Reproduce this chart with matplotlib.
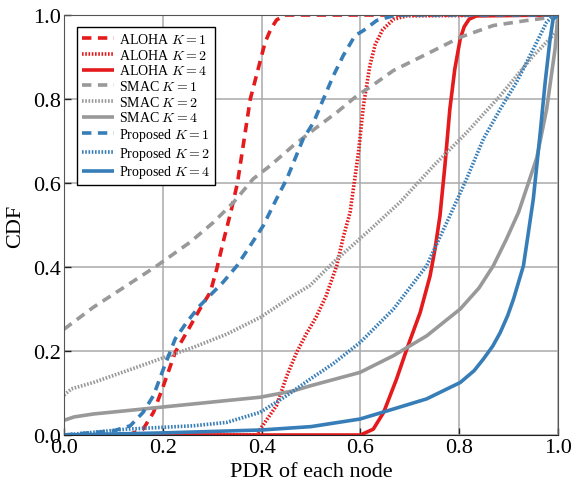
import numpy as np
import matplotlib
matplotlib.use("Agg")
import matplotlib.pyplot as plt

# CDF del PDR por nodo
aloha1_x = [0.0, 0.13, 0.16, 0.181, 0.201, 0.225, 0.248, 0.275, 0.296, 0.309, 0.322, 0.339, 0.351, 0.377, 0.407, 0.418, 0.43, 0.447, 1.0]
aloha1_y = [0.0, 0.0, 0.014, 0.054, 0.117, 0.197, 0.244, 0.30, 0.34, 0.395, 0.459, 0.538, 0.60, 0.80, 0.935, 0.965, 0.988, 1.0, 1.0]

aloha2_x = [0.0, 0.39, 0.397, 0.43, 0.451, 0.471, 0.49, 0.51, 0.53, 0.552, 0.565, 0.579, 0.596, 0.606, 0.619, 0.63, 0.645, 0.667, 0.694, 1.0]
aloha2_y = [0.0, 0.0, 0.014, 0.07, 0.141, 0.197, 0.24, 0.28, 0.33, 0.403, 0.47, 0.53, 0.673, 0.784, 0.879, 0.93, 0.965, 0.99, 0.998, 1.0]

aloha4_x = [0.0, 0.60, 0.626, 0.647, 0.673, 0.694, 0.721, 0.741, 0.751, 0.761, 0.771, 0.781, 0.791, 0.802, 0.81, 0.82, 0.835, 1.0]
aloha4_y = [0.0, 0.0, 0.014, 0.054, 0.133, 0.205, 0.292, 0.379, 0.443, 0.522, 0.641, 0.776, 0.871, 0.943, 0.972, 0.99, 0.998, 1.0]

smac1_x = [0.0, 0.059, 0.127, 0.188, 0.255, 0.302, 0.343, 0.383, 0.417, 0.464, 0.512, 0.552, 0.593, 0.619, 0.667, 0.734, 0.802, 0.869, 0.937, 0.99, 1.0]
smac1_y = [0.252, 0.304, 0.356, 0.403, 0.459, 0.506, 0.554, 0.61, 0.641, 0.689, 0.733, 0.768, 0.808, 0.828, 0.868, 0.907, 0.947, 0.975, 0.987, 0.995, 1.0]

smac2_x = [0.0, 0.015, 0.059, 0.127, 0.194, 0.262, 0.329, 0.397, 0.464, 0.498, 0.545, 0.613, 0.68, 0.748, 0.815, 0.883, 0.95, 0.997, 1.0]
smac2_y = [0.095, 0.11, 0.125, 0.153, 0.181, 0.209, 0.24, 0.28, 0.332, 0.356, 0.411, 0.482, 0.554, 0.641, 0.72, 0.808, 0.903, 0.96, 1.0]

smac4_x = [0.0, 0.02, 0.059, 0.127, 0.194, 0.262, 0.329, 0.397, 0.464, 0.498, 0.599, 0.667, 0.734, 0.802, 0.84, 0.869, 0.895, 0.92, 0.94, 0.957, 0.977, 0.994, 1.0]
smac4_y = [0.035, 0.043, 0.05, 0.058, 0.066, 0.074, 0.082, 0.09, 0.105, 0.117, 0.149, 0.189, 0.236, 0.30, 0.35, 0.403, 0.465, 0.53, 0.6, 0.66, 0.776, 0.919, 1.0]

prop1_x = [0.0, 0.05, 0.10, 0.134, 0.16, 0.181, 0.201, 0.225, 0.248, 0.275, 0.302, 0.322, 0.35, 0.377, 0.403, 0.43, 0.451, 0.484, 0.505, 0.525, 0.545, 0.565, 0.589, 0.606, 0.633, 0.666, 0.69, 1.0]
prop1_y = [0.0, 0.005, 0.01, 0.022, 0.054, 0.094, 0.157, 0.229, 0.268, 0.308, 0.34, 0.364, 0.403, 0.451, 0.498, 0.562, 0.61, 0.705, 0.744, 0.80, 0.855, 0.903, 0.951, 0.963, 0.987, 0.998, 1.0, 1.0]

prop2_x = [0.0, 0.127, 0.262, 0.329, 0.397, 0.451, 0.498, 0.545, 0.60, 0.667, 0.734, 0.781, 0.815, 0.849, 0.883, 0.916, 0.95, 0.977, 0.99, 1.0]
prop2_y = [0.0, 0.014, 0.022, 0.03, 0.054, 0.094, 0.133, 0.17, 0.221, 0.30, 0.403, 0.522, 0.61, 0.705, 0.776, 0.84, 0.919, 0.983, 0.998, 1.0]

prop4_x = [0.0, 0.2, 0.4, 0.5, 0.599, 0.667, 0.734, 0.802, 0.83, 0.849, 0.868, 0.883, 0.898, 0.91, 0.93, 0.94, 0.95, 0.964, 0.974, 0.984, 0.99, 1.0]
prop4_y = [0.0, 0.005, 0.012, 0.02, 0.038, 0.062, 0.086, 0.125, 0.153, 0.181, 0.212, 0.244, 0.284, 0.324, 0.403, 0.482, 0.562, 0.72, 0.84, 0.943, 0.99, 1.0]

ticks = [0.0, 0.2, 0.4, 0.6, 0.8, 1.0]

plt.rcParams['font.family'] = ['Liberation Serif', 'DejaVu Serif']
plt.rcParams['mathtext.fontset'] = 'cm'

rojo = '#e41a1c'
gris = '#999999'
azul = '#377eb8'
rayas = (2.6, 1.8)
puntos = (0.45, 0.45)

fig = plt.figure(figsize=(5.88, 4.85), dpi=100)
ax = fig.add_axes([0.109, 0.101, 0.840, 0.866])

series = [
    (aloha1_x, aloha1_y, rojo, rayas, r'ALOHA $K = 1$'),
    (aloha2_x, aloha2_y, rojo, puntos, r'ALOHA $K = 2$'),
    (aloha4_x, aloha4_y, rojo, None, r'ALOHA $K = 4$'),
    (smac1_x, smac1_y, gris, rayas, r'SMAC $K = 1$'),
    (smac2_x, smac2_y, gris, puntos, r'SMAC $K = 2$'),
    (smac4_x, smac4_y, gris, None, r'SMAC $K = 4$'),
    (prop1_x, prop1_y, azul, rayas, r'Proposed $K = 1$'),
    (prop2_x, prop2_y, azul, puntos, r'Proposed $K = 2$'),
    (prop4_x, prop4_y, azul, None, r'Proposed $K = 4$'),
]
for x, y, c, d, lab in series:
    linea, = ax.plot(x, y, color=c, lw=2.6, label=lab, solid_capstyle='butt',
                     solid_joinstyle='round')
    if d is not None:
        linea.set_dashes(d)

ax.set_xlim(0, 1)
ax.set_ylim(0, 1)
ax.set_xticks(ticks)
ax.set_yticks(ticks)
ax.set_xticklabels(['%.1f' % t for t in ticks])
ax.set_yticklabels(['%.1f' % t for t in ticks])
ax.tick_params(direction='in', length=5, width=1, labelsize=16, pad=2,
               color='#222222')
ax.grid(True, color='#aaaaaa', lw=1.1)
ax.set_axisbelow(True)
for lado in ['top', 'right', 'left']:
    ax.spines[lado].set_color('#555555')
ax.spines['bottom'].set_color('#222222')
ax.set_xlabel('PDR of each node', fontsize=16, labelpad=4)
ax.set_ylabel('CDF', fontsize=16, labelpad=6)

leg = ax.legend(loc='upper left', bbox_to_anchor=(0.026, 0.971), borderaxespad=0,
                fontsize=10, handlelength=2.3, handletextpad=0.4,
                labelspacing=0.12, fancybox=False, framealpha=1,
                edgecolor='black', borderpad=0.35)
leg.get_frame().set_linewidth(1.0)

fig.savefig('out.png', dpi=100)
